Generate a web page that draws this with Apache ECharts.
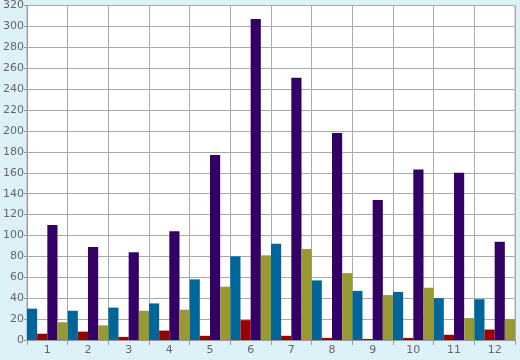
<!DOCTYPE html>
<html><head><meta charset="utf-8">
<script src="https://cdn.jsdelivr.net/npm/echarts@6/dist/echarts.min.js"></script>
<style>html,body{margin:0;padding:0;background:#dcf1f8;}#c{width:520px;height:360px;}</style>
</head><body><div id="c"></div>
<script>
const categories = ['1','2','3','4','5','6','7','8','9','10','11','12'];
const seriesBlue = [30, 28, 31, 35, 58, 80, 92, 57, 47, 46, 40, 39];
const seriesRed = [6, 8, 3, 9, 4, 19, 4, 2, 1, 2, 5, 10];
const seriesPurple = [110, 89, 84, 104, 177, 307, 251, 198, 134, 163, 160, 94];
const seriesOlive = [17, 14, 28, 29, 51, 81, 87, 64, 43, 50, 21, 20];
const yTicks = {min: 0, max: 320, interval: 20};

const chart = echarts.init(document.getElementById('c'), null, {renderer: 'canvas'});
const mk = (name, data, color) => ({
  name, type: 'bar', data, barGap: '0%', barCategoryGap: '0%',
  itemStyle: {color}, animation: false
});
chart.setOption({
  backgroundColor: '#dcf1f8',
  animation: false,
  grid: {left: 26, right: 5, top: 5, bottom: 20, show: true, backgroundColor: '#ffffff', borderColor: '#aaaaaa', borderWidth: 1},
  xAxis: {
    type: 'category', data: categories, boundaryGap: true,
    axisLine: {lineStyle: {color: '#999999'}},
    axisTick: {show: true, length: 5, lineStyle: {color: '#999999'}},
    axisLabel: {color: '#666666', fontFamily: 'DejaVu Sans', fontSize: 11, margin: 5},
    splitLine: {show: true, lineStyle: {color: '#aaaaaa', width: 1}}
  },
  yAxis: {
    type: 'value', min: yTicks.min, max: yTicks.max, interval: yTicks.interval,
    axisLine: {show: true, lineStyle: {color: '#999999'}},
    axisTick: {show: true, length: 3, lineStyle: {color: '#999999'}},
    axisLabel: {color: '#666666', fontFamily: 'DejaVu Sans', fontSize: 11, margin: 3},
    splitLine: {show: true, lineStyle: {color: '#aaaaaa', width: 1}}
  },
  series: [
    mk('A', seriesBlue, '#006699'),
    mk('B', seriesRed, '#990000'),
    mk('C', seriesPurple, '#330066'),
    mk('D', seriesOlive, '#999933')
  ]
});
</script></body></html>
